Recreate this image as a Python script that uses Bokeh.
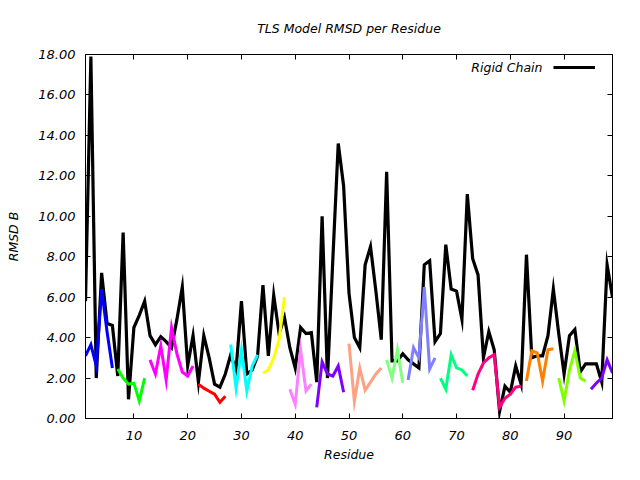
from bokeh.plotting import figure
from bokeh.models import (Range1d, LinearAxis, FixedTicker, PrintfTickFormatter,
                          CustomJSTickFormatter, Legend, LegendItem, Label)
from bokeh.embed import file_html
from bokeh.resources import INLINE

# ---------------- data ----------------
residues = list(range(1, 100))
rigid_chain = [
    5.8, 17.9, 2.0, 7.2, 4.7, 4.6, 2.1, 9.2, 0.95, 4.5,
    5.1, 5.8, 4.1, 3.65, 4.05, 3.8, 3.5, 4.9, 6.5, 2.6,
    4.1, 1.8, 4.1, 3.0, 1.7, 1.55, 2.2, 3.15, 2.4, 5.8,
    2.2, 2.4, 3.1, 6.6, 3.1, 6.1, 4.2, 5.0, 3.5, 2.5,
    4.5, 4.2, 4.25, 1.8, 10.0, 2.0, 7.9, 13.6, 11.5, 6.2,
    4.0, 3.5, 7.6, 8.5, 6.3, 3.9, 12.2, 2.85, 2.85, 3.2,
    2.9, 2.7, 2.5, 7.6, 7.8, 3.8, 4.2, 8.6, 6.4, 6.3,
    4.9, 11.1, 7.9, 7.1, 3.0, 4.3, 3.4, 0.35, 1.6, 1.3,
    2.6, 1.7, 8.1, 3.0, 3.1, 3.1, 4.1, 6.4, 4.2, 2.2,
    4.1, 4.4, 2.3, 2.7, 2.7, 2.7, 1.8, 7.6, 6.0,
]

# TLS segments: first residue, colour, values
seg_first_residue = [1, 7, 13, 22, 28, 34, 39, 44, 50, 57, 61, 67, 73, 83, 89, 95]
seg_colors = ["#0000ff", "#00ff00", "#ff00ff", "#ff0000", "#00ffff", "#ffff00",
              "#ff80ff", "#8000ff", "#ffa080", "#80ff80", "#8080ff", "#00ff80",
              "#ff0080", "#ff8000", "#80ff00", "#8000ff"]
seg_values = [
    [3.1, 3.65, 2.6, 6.4, 4.3, 2.5],
    [2.45, 2.0, 1.7, 1.75, 0.87, 2.0],
    [2.9, 2.2, 3.6, 1.9, 4.5, 3.2, 2.3, 2.1, 2.6],
    [1.7, 1.5, 1.35, 1.2, 0.8, 1.1],
    [3.65, 1.5, 3.4, 1.35, 2.6, 3.15],
    [2.25, 2.4, 3.0, 3.9, 6.0],
    [1.45, 0.7, 3.4, 1.36, 1.7],
    [0.55, 2.8, 2.2, 2.1, 2.6, 1.3],
    [3.7, 0.85, 2.5, 1.4, 1.8, 2.2, 2.5],
    [2.9, 2.0, 3.4, 1.77],
    [1.9, 3.5, 3.0, 6.5, 2.45, 3.0],
    [2.0, 1.45, 3.15, 2.5, 2.4, 2.1],
    [1.4, 2.2, 2.75, 3.0, 3.15, 0.55, 1.0, 1.2, 1.55, 1.6],
    [1.85, 3.35, 3.25, 1.85, 3.4, 3.45],
    [2.0, 0.87, 2.4, 3.35, 2.0, 1.85],
    [1.45, 1.75, 2.0, 2.9, 2.25],
]

x_ticks = [10, 20, 30, 40, 50, 60, 70, 80, 90]
y_ticks = [0, 2, 4, 6, 8, 10, 12, 14, 16, 18]
series_name = "Rigid Chain"

FONT = "DejaVu Sans"
FS = "12.5px"
TFS = "13px"

# ---------------- figure ----------------
p = figure(width=624, height=464, output_backend="svg", toolbar_location=None,
           x_range=Range1d(1, 99), y_range=Range1d(0, 18),
           min_border_left=85, min_border_right=12, min_border_top=54,
           min_border_bottom=46)

p.title.text = "TLS Model RMSD per Residue"
p.title.align = "center"
p.title.text_font = FONT
p.title.text_font_size = FS
p.title.text_font_style = "italic"
p.title.text_color = "black"
p.title.standoff = 37

p.xgrid.visible = False
p.ygrid.visible = False
p.outline_line_color = "black"
p.outline_line_width = 1
p.background_fill_color = "white"
p.border_fill_color = "white"

def style_axis(ax, labels=True):
    ax.axis_line_color = "black"
    ax.major_tick_line_color = "black"
    ax.major_tick_in = 5
    ax.major_tick_out = 0
    ax.minor_tick_line_color = None
    ax.major_label_text_font = FONT
    ax.major_label_text_font_style = "italic"
    ax.major_label_text_color = "black"
    ax.major_label_text_font_size = TFS
    if not labels:
        ax.formatter = CustomJSTickFormatter(code="return ''")
        ax.major_label_standoff = 0

p.xaxis.ticker = FixedTicker(ticks=x_ticks)
p.yaxis.ticker = FixedTicker(ticks=y_ticks)
p.yaxis.formatter = PrintfTickFormatter(format="%.2f")
style_axis(p.xaxis[0])
style_axis(p.yaxis[0])
p.xaxis.major_label_standoff = 12
p.yaxis.major_label_standoff = 10

p.xaxis.axis_label = "Residue"
p.yaxis.axis_label = "RMSD B"
for ax in (p.xaxis[0], p.yaxis[0]):
    ax.axis_label_text_font = FONT
    ax.axis_label_text_font_size = FS
    ax.axis_label_text_font_style = "italic"
    ax.axis_label_text_color = "black"
p.xaxis.axis_label_standoff = 4
p.yaxis.axis_label_standoff = 14

top_ax = LinearAxis(ticker=FixedTicker(ticks=x_ticks))
style_axis(top_ax, labels=False)
p.add_layout(top_ax, "above")
right_ax = LinearAxis(ticker=FixedTicker(ticks=y_ticks))
style_axis(right_ax, labels=False)
p.add_layout(right_ax, "right")

# ---------------- data lines ----------------
rigid = p.line(residues, rigid_chain, line_color="black", line_width=3.2,
               line_join="miter")

for first, col, vals in zip(seg_first_residue, seg_colors, seg_values):
    xs = list(range(first, first + len(vals)))
    p.line(xs, vals, line_color=col, line_width=3, line_join="miter")

# gnuplot-style key: text on the left, sample line on the right
legend = Legend(items=[LegendItem(label="", renderers=[rigid])],
                location=(468, 343))
legend.label_text_font = FONT
legend.label_text_font_size = FS
legend.glyph_width = 42
legend.glyph_height = 16
legend.label_height = 16
legend.label_width = 0
legend.label_standoff = 0
legend.padding = 0
legend.margin = 0
legend.border_line_color = None
legend.background_fill_alpha = 0
p.add_layout(legend)

key_text = Label(x=85.98, y=17.36, text=series_name, text_align="right",
                 text_baseline="middle", text_font=FONT, text_font_size=FS,
                 text_font_style="italic", text_color="black")
p.add_layout(key_text)

open("out.html", "w").write(file_html(p, INLINE))
